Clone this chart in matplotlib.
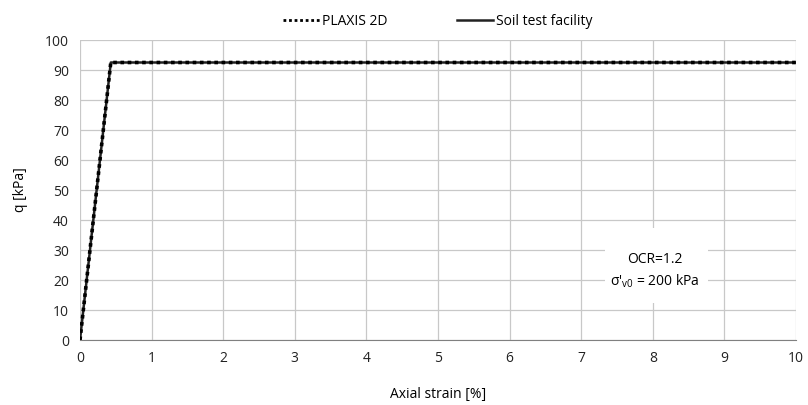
import matplotlib.pyplot as plt
from matplotlib.patches import Rectangle

# Triaxial response: PLAXIS 2D vs soil test facility
plaxis_strain = [0.0, 0.43, 10.0]
plaxis_q = [0.0, 92.5, 92.5]
facility_strain = [0.0, 0.43, 10.0]
facility_q = [0.0, 92.5, 92.5]

x_ticks = list(range(0, 11))
y_ticks = list(range(0, 101, 10))

plt.rcParams['font.family'] = ['Open Sans', 'DejaVu Sans']
plt.rcParams['font.size'] = 10

fig = plt.figure(figsize=(8.08, 4.05), dpi=100)
ax = fig.add_axes([80 / 808, 1 - 340 / 405, 716 / 808, 300 / 405])

ax.plot(facility_strain, facility_q, color='#222222', linewidth=1.8,
        label='Soil test facility', zorder=3)
ax.plot(plaxis_strain, plaxis_q, color='black', linewidth=2.6,
        linestyle=(0, (1, 1)), label='PLAXIS 2D', zorder=4)

ax.set_xlim(0, 10)
ax.set_ylim(0, 100)
ax.set_xticks(x_ticks)
ax.set_yticks(y_ticks)
ax.grid(True, color='#c8c8c8', linewidth=0.9)
ax.set_axisbelow(True)
for side in ['top', 'right', 'left']:
    ax.spines[side].set_visible(False)
ax.spines['bottom'].set_color('#808080')
ax.tick_params(length=0, pad=8, colors='#222222')

ax.set_xlabel('Axial strain [%]', labelpad=15)
ax.set_ylabel('q [kPa]', labelpad=12)

handles, labels = ax.get_legend_handles_labels()
leg = ax.legend(handles[::-1], labels[::-1], loc='lower center',
                bbox_to_anchor=(0.5, 1.01), ncol=2, frameon=False,
                handlelength=2.6, columnspacing=5, handletextpad=0.2,
                borderaxespad=0.2)
leg.get_lines()[0].set_linewidth(2.0)

# white label box for the test conditions
ax.add_patch(Rectangle((7.33, 12.3), 1.44, 25, facecolor='white',
                       edgecolor='none', zorder=2))
ax.text(8.03, 23.0, "OCR=1.2\nσ'$_{\\mathregular{v0}}$ = 200 kPa",
        ha='center', va='center', linespacing=1.45, zorder=5)

fig.savefig('out.png', dpi=100)
